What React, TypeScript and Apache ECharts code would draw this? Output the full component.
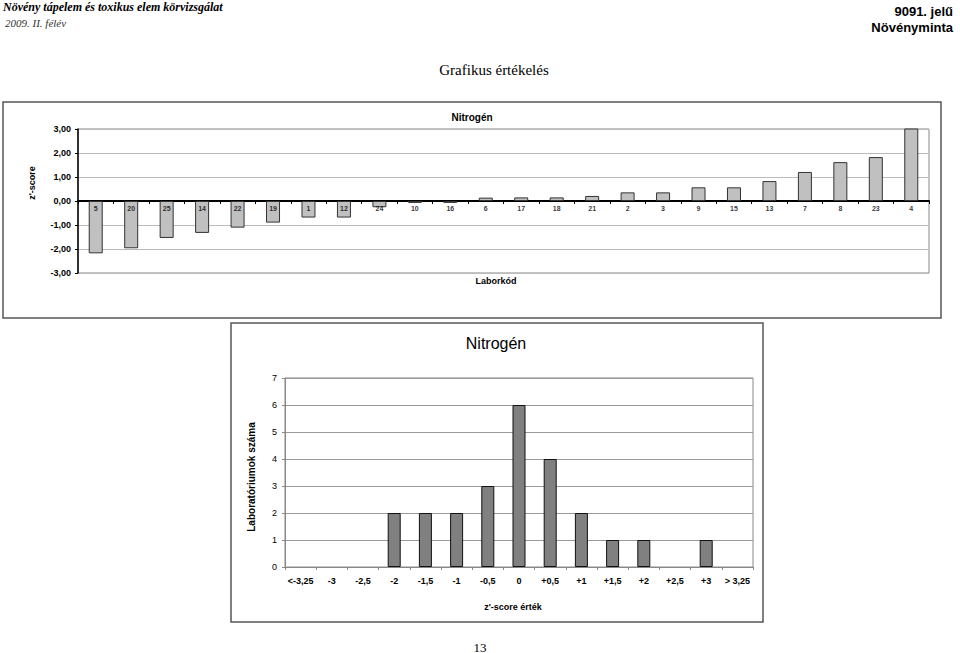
import React, { useEffect, useRef } from 'react';
import * as echarts from 'echarts';

// Top chart: z'-score per laboratory (sorted)
const labCodes = ['5', '20', '25', '14', '22', '19', '1', '12', '24', '10', '16', '6', '17', '18', '21', '2', '3', '9', '15', '13', '7', '8', '23', '4'];
const zScores = [-2.18, -1.97, -1.54, -1.33, -1.11, -0.9, -0.69, -0.69, -0.26, -0.08, -0.08, 0.14, 0.15, 0.15, 0.21, 0.36, 0.36, 0.57, 0.57, 0.83, 1.21, 1.62, 1.83, 3.4];

// Bottom chart: histogram of z'-scores
const binLabels = ['<-3,25', '-3', '-2,5', '-2', '-1,5', '-1', '-0,5', '0', '+0,5', '+1', '+1,5', '+2', '+2,5', '+3', '> 3,25'];
const binCounts = [0, 0, 0, 2, 2, 2, 3, 6, 4, 2, 1, 1, 0, 1, 0];

const SANS = '"Liberation Sans", Arial, sans-serif';
const SERIF = '"Liberation Serif", "Times New Roman", serif';

export default function App() {
  const ref = useRef<HTMLDivElement>(null);

  useEffect(() => {
    if (!ref.current) return;
    const chart = echarts.init(ref.current, undefined, { renderer: 'svg' });

    const txt = (text: string, x: number, y: number, font: string, opts: any = {}) => ({
      type: 'text',
      x,
      y,
      rotation: opts.rotation || 0,
      silent: true,
      style: {
        text,
        font,
        fill: opts.fill || '#000',
        align: opts.align || 'center',
        verticalAlign: 'middle',
      },
    });

    chart.setOption({
      animation: false,
      backgroundColor: '#fff',
      grid: [
        {
          left: 78, top: 129, width: 851, height: 144,
          show: true, borderColor: '#888', borderWidth: 1, backgroundColor: 'transparent',
        },
        {
          left: 285, top: 378, width: 468, height: 189,
          show: true, borderColor: '#888', borderWidth: 1, backgroundColor: 'transparent',
        },
      ],
      xAxis: [
        {
          type: 'category', gridIndex: 0, data: labCodes,
          axisLine: { onZero: true, lineStyle: { color: '#000', width: 2 } },
          axisTick: { show: true, length: 3, lineStyle: { color: '#000' } },
          axisLabel: { show: false },
          splitLine: { show: false },
        },
        {
          type: 'category', gridIndex: 1, data: binLabels,
          axisLine: { lineStyle: { color: '#888', width: 1 } },
          axisTick: { show: true, length: 3, lineStyle: { color: '#888' } },
          axisLabel: { fontFamily: SANS, fontSize: 9, fontWeight: 'bold', color: '#000', margin: 9, interval: 0 },
          splitLine: { show: false },
        },
      ],
      yAxis: [
        {
          type: 'value', gridIndex: 0, min: -3, max: 3, interval: 1,
          axisLine: { show: true, onZero: false, lineStyle: { color: '#000', width: 1.5 } },
          axisTick: { show: true, length: 3, lineStyle: { color: '#000' } },
          axisLabel: {
            fontFamily: SANS, fontSize: 9, fontWeight: 'bold', color: '#000', margin: 7,
            formatter: (v: number) => v.toFixed(2).replace('.', ','),
          },
          splitLine: { show: true, lineStyle: { color: '#bbb', width: 1 } },
        },
        {
          type: 'value', gridIndex: 1, min: 0, max: 7, interval: 1,
          axisLine: { show: true, lineStyle: { color: '#888', width: 1 } },
          axisTick: { show: true, length: 3, lineStyle: { color: '#888' } },
          axisLabel: { fontFamily: SANS, fontSize: 9, color: '#000', margin: 8 },
          splitLine: { show: true, lineStyle: { color: '#999', width: 1 } },
        },
      ],
      series: [
        {
          type: 'bar', xAxisIndex: 0, yAxisIndex: 0, data: zScores, barWidth: 14, clip: true,
          itemStyle: { color: '#c0c0c0', borderColor: '#333', borderWidth: 1 },
          emphasis: { disabled: true },
        },
        {
          // category labels placed next to the zero line (as in Excel)
          type: 'scatter', xAxisIndex: 0, yAxisIndex: 0, symbolSize: 0, silent: true, z: 5,
          data: labCodes.map((c) => [c, 0]),
          label: {
            show: true, position: 'bottom', distance: 4,
            fontFamily: SANS, fontSize: 7, fontWeight: 'bold', color: '#000',
            formatter: (p: any) => p.data[0],
          },
        },
        {
          type: 'bar', xAxisIndex: 1, yAxisIndex: 1,
          data: binCounts.map((v) => (v === 0 ? null : v)), barWidth: 13,
          itemStyle: { color: '#808080', borderColor: '#111', borderWidth: 1 },
          emphasis: { disabled: true },
        },
      ],
      graphic: [
        // outer boxes
        { type: 'rect', silent: true, shape: { x: 3, y: 102, width: 938, height: 216 }, style: { fill: 'none', stroke: '#555', lineWidth: 1.5 } },
        { type: 'rect', silent: true, shape: { x: 231, y: 323, width: 532, height: 299 }, style: { fill: 'none', stroke: '#555', lineWidth: 1.5 } },
        // page header
        txt('Növény tápelem és toxikus elem körvizsgálat', 3, 7, `italic bold 12px ${SERIF}`, { align: 'left' }),
        txt('2009. II. félév', 5, 23, `italic 11px ${SERIF}`, { align: 'left', fill: '#333' }),
        txt('9091. jelű', 953, 11, `bold 13px ${SANS}`, { align: 'right' }),
        txt('Növényminta', 953, 27, `bold 13px ${SANS}`, { align: 'right' }),
        txt('Grafikus értékelés', 494, 70, `15px ${SERIF}`),
        txt('13', 480, 647, `13px ${SERIF}`),
        // top chart texts
        txt('Nitrogén', 472, 117, `bold 10px ${SANS}`),
        txt("z'-score", 32, 183, `bold 9px ${SANS}`, { rotation: Math.PI / 2 }),
        txt('Laborkód', 496, 281, `bold 9px ${SANS}`),
        // bottom chart texts
        txt('Nitrogén', 496, 343, `16px ${SANS}`),
        txt('Laboratóriumok száma', 251, 477, `bold 10px ${SANS}`, { rotation: Math.PI / 2 }),
        txt("z'-score érték", 513, 607, `bold 9px ${SANS}`),
      ],
    });

    return () => chart.dispose();
  }, []);

  return (
    <div
      ref={ref}
      style={{ position: 'absolute', left: 0, top: 0, width: 960, height: 653 }}
    />
  );
}
